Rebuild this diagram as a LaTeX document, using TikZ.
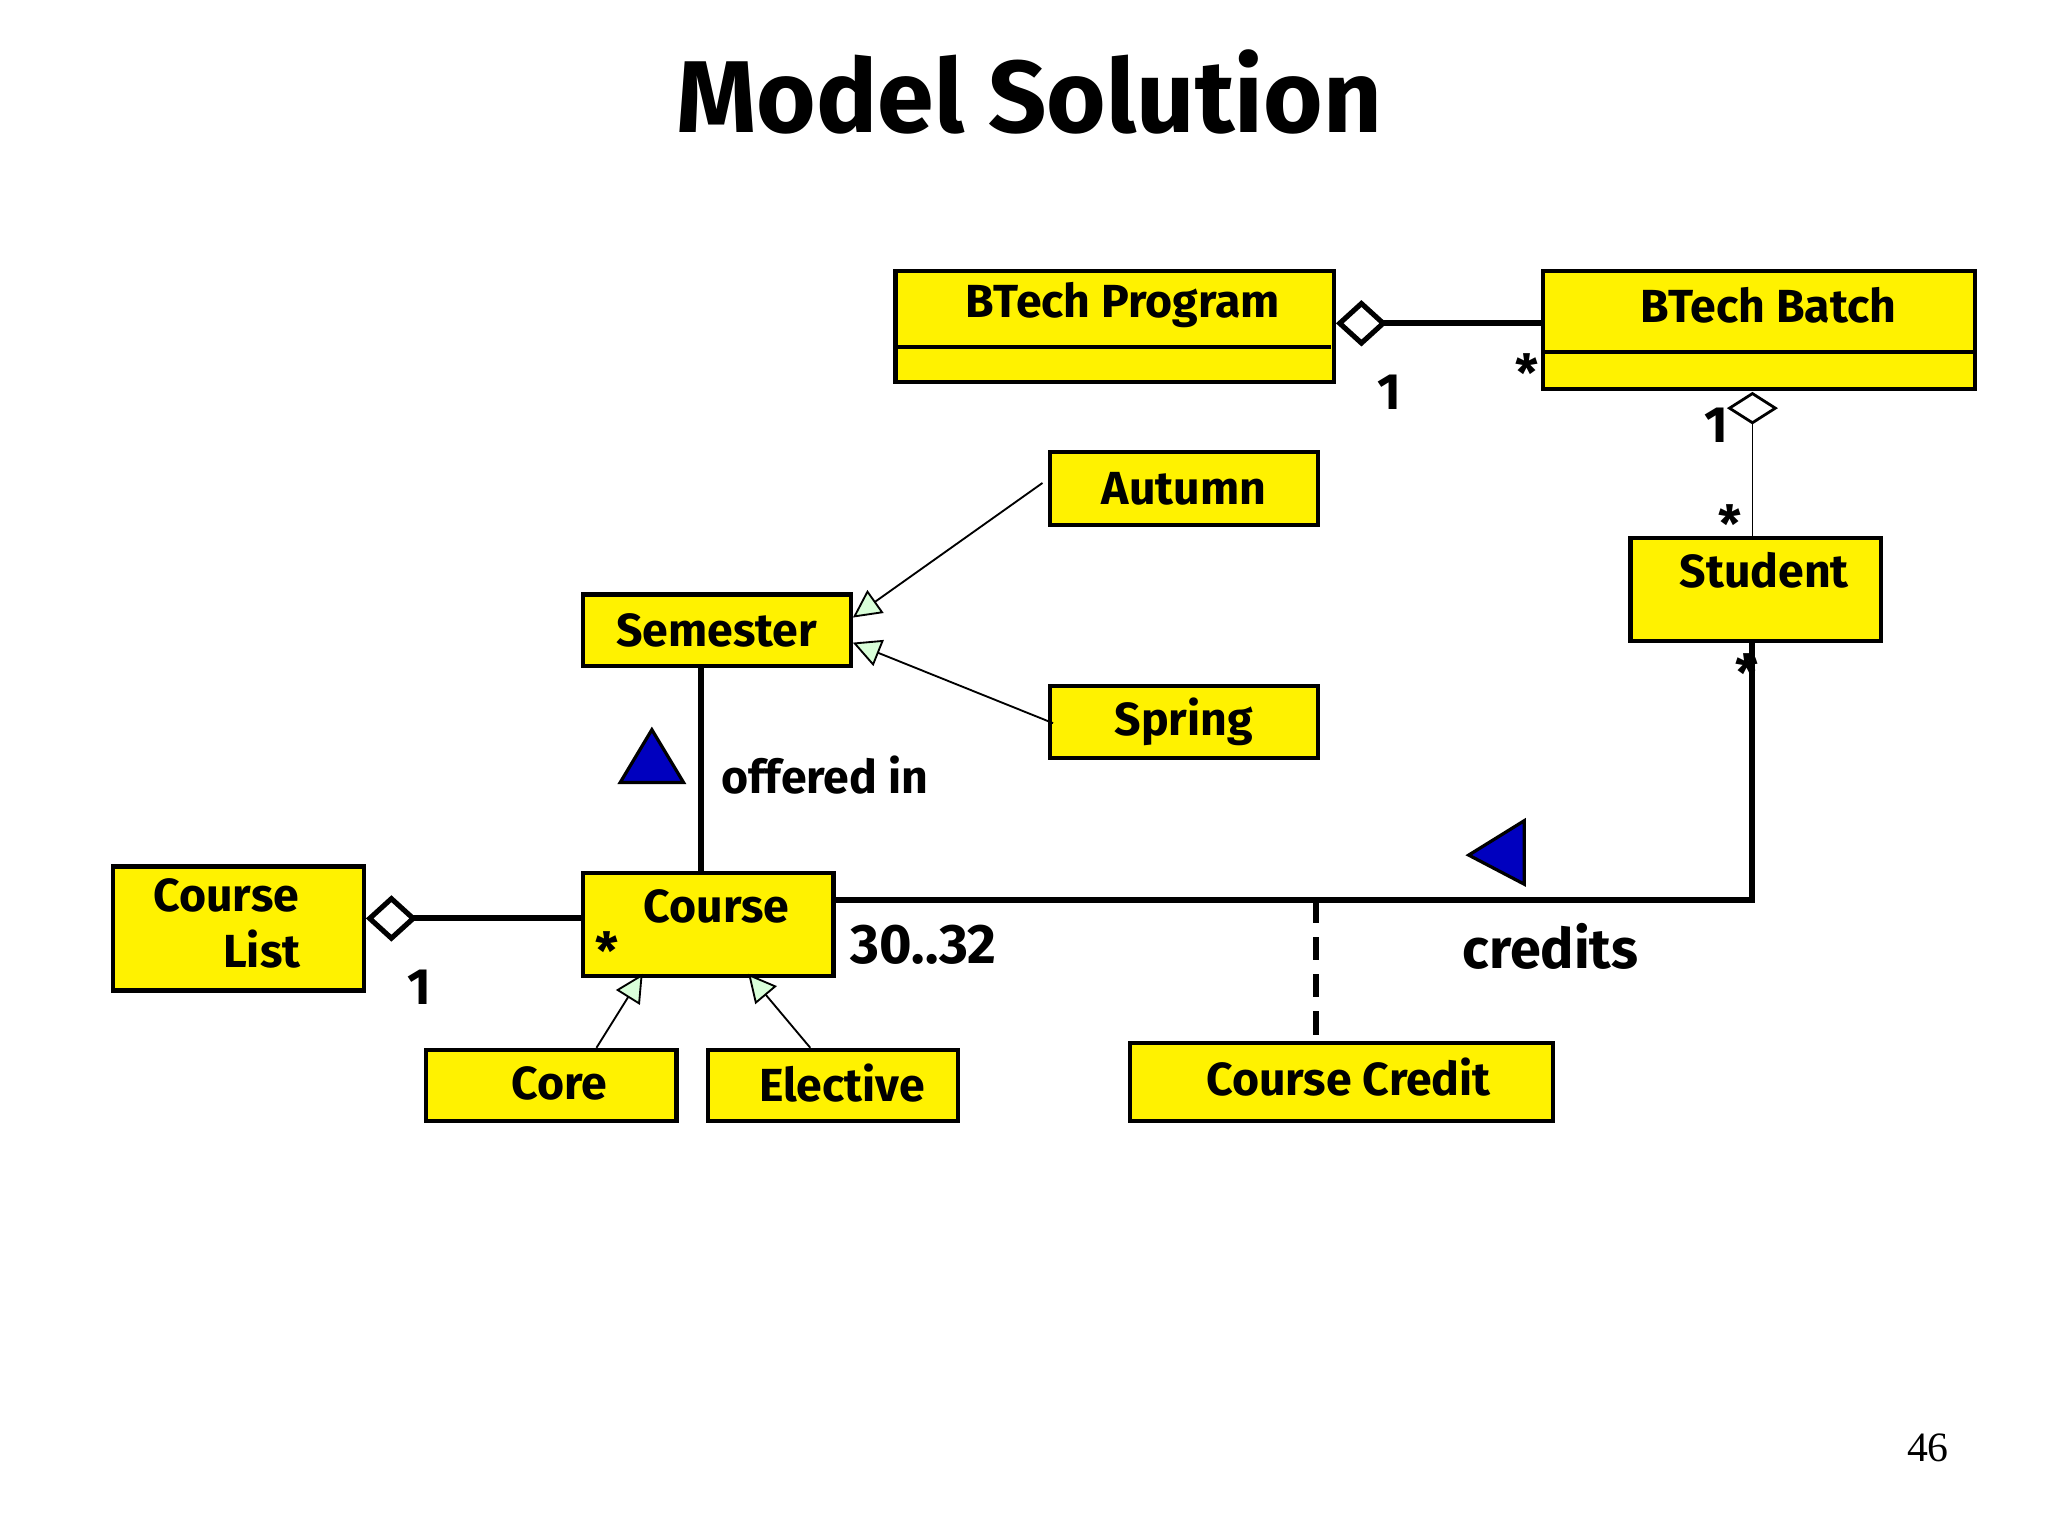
\documentclass[tikz,border=0pt]{standalone}
\usepackage{fontspec}
\setmainfont{Fira Sans}
\usetikzlibrary{arrows.meta,shapes.geometric}
\begin{document}
\begin{tikzpicture}[x=0.01cm,y=-0.01cm,
  box/.style={draw=black,line width=0.9pt,fill=yellow,anchor=north west,inner sep=0pt},
  txt/.style={font=\fontsize{10}{12}\selectfont\bfseries},
  thickl/.style={line width=1.3pt},
  thinl/.style={line width=0.4pt},
  gen/.style={thinl,-{Triangle[open,length=6pt,width=6pt,fill=green!15,line width=0.4pt]}},
  agg/.style={thickl,{Diamond[open,length=11pt,width=10pt,line width=1.1pt,fill=white]}-},
  mult/.style={font=\fontsize{11}{13}\selectfont\bfseries},
  bluetri/.style={draw=black,fill=blue!75!black,line width=0.7pt}]
\useasboundingbox (0,0) rectangle (1552,1164);
\node[font=\fontsize{22}{26}\selectfont\bfseries] (title) at (780,70) {Model Solution};
% boxes
\node[box,minimum width=3.32cm,minimum height=0.84cm] (prog) at (677,204) {};
\draw[line width=0.9pt] (677,263) -- (1009,263);
\node[txt] (progt) at (851,231) {BTech Program};
\node[box,minimum width=3.27cm,minimum height=0.89cm] (batch) at (1168,204) {};
\draw[line width=0.9pt] (1168,267) -- (1495,267);
\node[txt] (batcht) at (1340,231) {BTech Batch};
\node[box,minimum width=2.03cm,minimum height=0.55cm] (aut) at (794,341) {};
\node[txt] at (aut.center) {Autumn};
\node[box,minimum width=2.03cm,minimum height=0.54cm] (sem) at (440,449) {};
\node[txt] at (sem.center) {Semester};
\node[box,minimum width=2.03cm,minimum height=0.55cm] (spr) at (794,518) {};
\node[txt] at (spr.center) {Spring};
\node[box,minimum width=1.90cm,minimum height=0.78cm] (stu) at (1234,406) {};
\node[txt] at (1337,432) {Student};
\node[box,minimum width=1.90cm,minimum height=0.94cm] (clist) at (84,655) {};
\node[txt,align=left] at (172,700) {Course\\ \hspace*{1.5em}List};
\node[box,minimum width=1.90cm,minimum height=0.78cm] (course) at (440,660) {};
\node[txt] at (543,687) {Course};
\node[box,minimum width=1.90cm,minimum height=0.54cm] (core) at (321,794) {};
\node[txt] at (424,821) {Core};
\node[box,minimum width=1.89cm,minimum height=0.54cm] (elec) at (535,794) {};
\node[txt] at (638,821) {Elective};
\node[box,minimum width=3.20cm,minimum height=0.59cm] (cc) at (855,789) {};
\node[txt] at (1022,816) {Course Credit};
% connectors
\draw[agg] (prog.east |- 0,245) -- (batch.west |- 0,245);
\draw[thinl,{Diamond[open,length=7pt,width=11pt,line width=0.6pt,fill=white]}-] (1328,297) -- (stu.north -| 1328,297);
\coordinate (a1) at (790,366);
\draw[gen] (a1) -- (sem.east |- 0,468);
\coordinate (s1) at (798,548);
\draw[gen] (s1) -- (sem.east |- 0,487);
\draw[thickl] (sem.south -| 531,0) -- (course.north -| 531,0);
\draw[agg] (clist.east |- 0,696) -- (course.west |- 0,696);
\coordinate (c1) at (452,794);
\draw[gen] (c1) -- (487,738);
\coordinate (e1) at (614,794);
\draw[gen] (e1) -- (567,738);
\coordinate (corner) at (1328,682);
\draw[thickl] (course.east |- 0,682) -- (corner) -- (stu.south -| 1328,0);
\coordinate (dj) at (997,682);
\draw[line width=1.3pt,dash pattern=on 5pt off 3pt] (dj) -- (cc.north -| dj);
% direction triangles
\draw[bluetri] (470,593) -- (518,593) -- (494,553) -- cycle;
\draw[bluetri] (1155,622) -- (1155,670) -- (1113,648) -- cycle;
% labels
\node[txt] at (625,587) {offered in};
\node[font=\fontsize{12}{14}\selectfont\bfseries] at (700,716) {30..32};
\node[font=\fontsize{12}{14}\selectfont\bfseries] at (1175,717) {credits};
\node[mult] at (1053,297) {1};
\node[mult] at (1157,282) {*};
\node[mult] at (1301,322) {1};
\node[mult] at (1311,397) {*};
\node[mult] at (1324,510) {*};
\node[mult] at (460,720) {*};
\node[mult] at (318,748) {1};
\node[font=\fontsize{9}{11}\selectfont\rmfamily] at (1461,1097) {\fontspec{Liberation Serif}46};
\end{tikzpicture}
\end{document}
